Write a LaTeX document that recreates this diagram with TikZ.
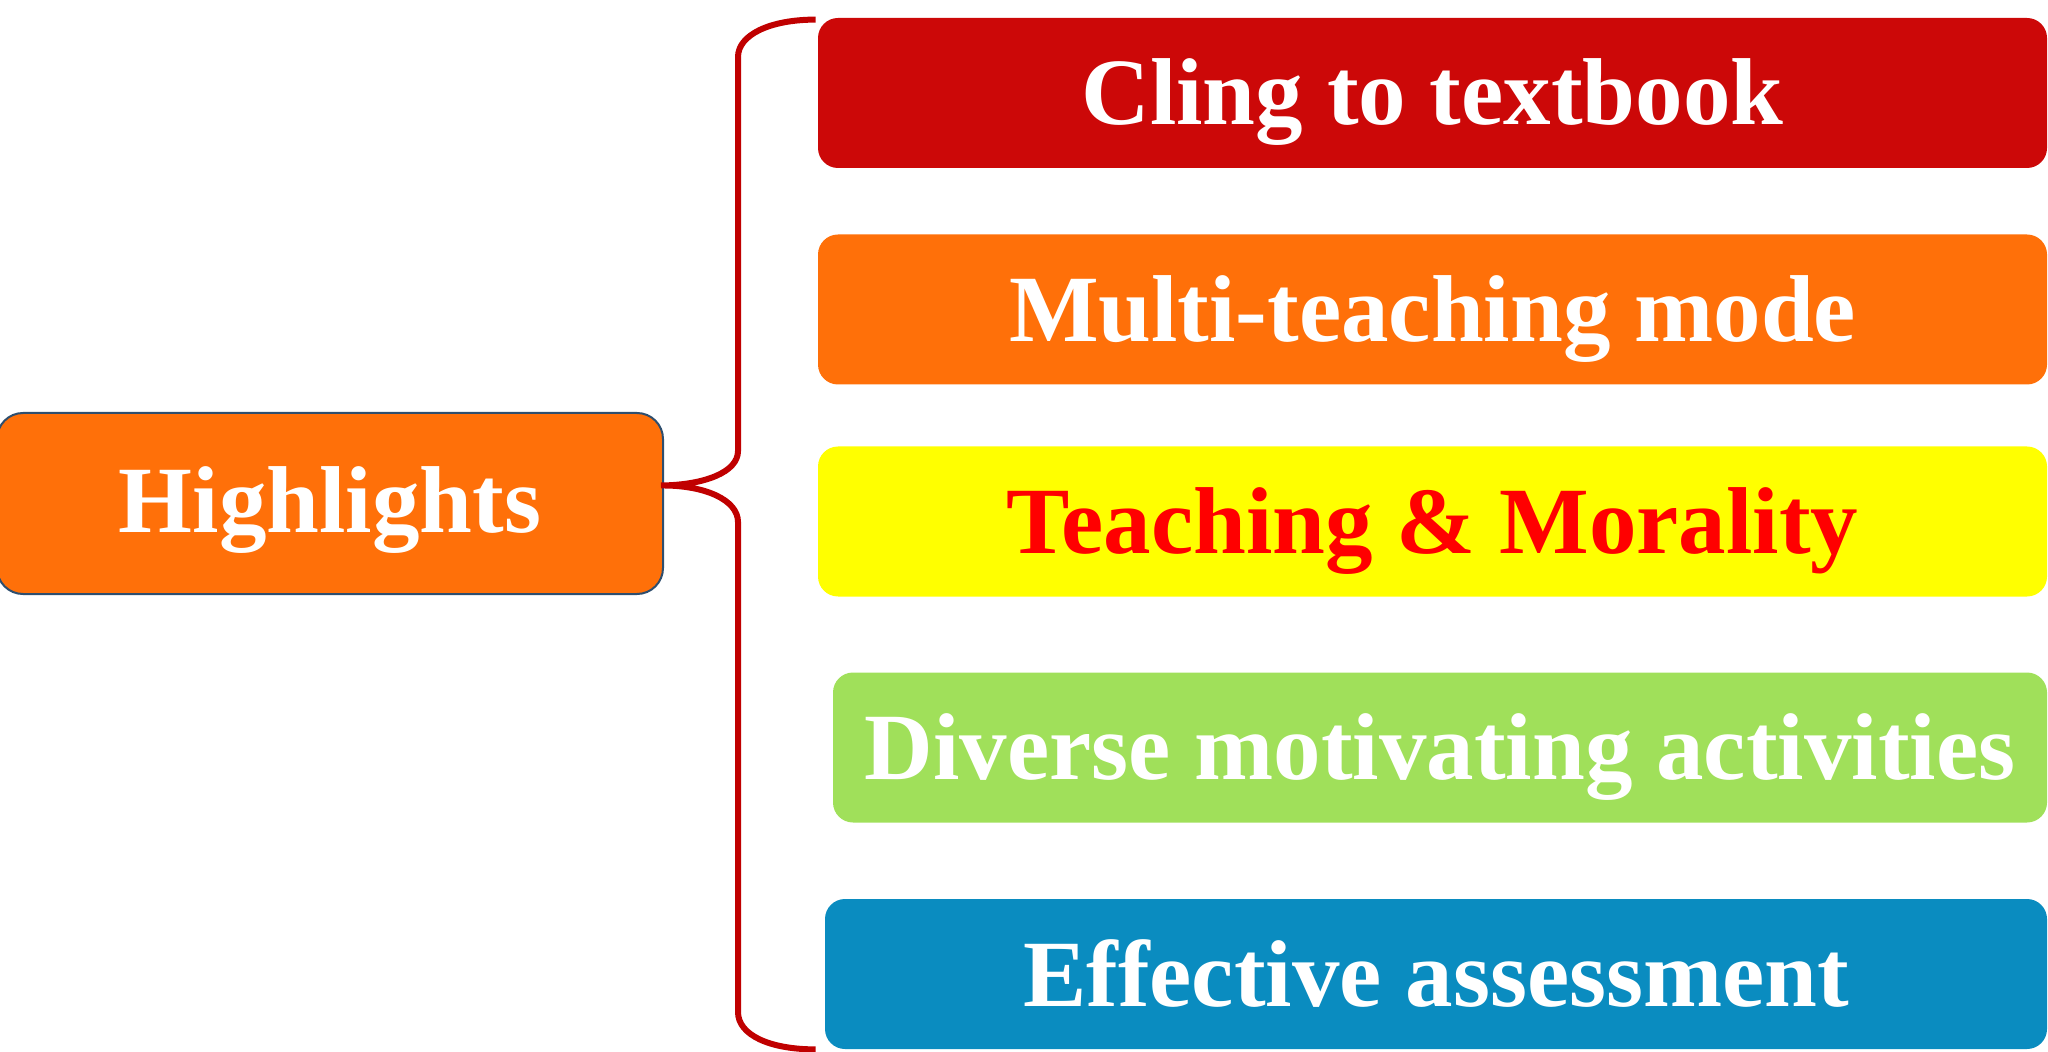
\documentclass[tikz,border=0pt]{standalone}
\usepackage{fontspec}
\setmainfont{Liberation Serif}
\usepackage{xcolor}
\usepackage{tikz}
\usetikzlibrary{calc}

\definecolor{clingred}{HTML}{CC0808}
\definecolor{modeorange}{HTML}{FF7009}
\definecolor{moralyellow}{HTML}{FFFF00}
\definecolor{activegreen}{HTML}{A0E05A}
\definecolor{assessblue}{HTML}{0A8CC0}
\definecolor{bracered}{HTML}{C00000}
\definecolor{rimblue}{HTML}{2E4E6E}

\begin{document}
\begin{tikzpicture}[
    x=0.5pt,
    y=-0.5pt,
    itembox/.style={
        rectangle,
        rounded corners=10pt,
        minimum height=75pt,
        inner sep=0pt,
        text height=32pt,
        text depth=0pt,
        text=white,
        font=\fontsize{47.5}{57}\selectfont\bfseries
    },
    rootbox/.style={
        itembox,
        rounded corners=13pt,
        draw=rimblue,
        line width=1pt,
        fill=modeorange,
        text height=29.5pt,
        minimum width=333pt,
        minimum height=90.5pt
    },
    braceline/.style={
        draw=bracered,
        line width=3pt
    }
]
\useasboundingbox (0,0) rectangle (2048,1052);

\node[rootbox] (hl) at (330,503.5) {Highlights};

\node[itembox,fill=clingred,minimum width=614.5pt] (cling) at (1432.5,93)
{Cling to textbook};
\node[itembox,fill=modeorange,minimum width=614.5pt] (multi) at (1432.5,309.5)
{Multi-teaching mode};
\node[itembox,fill=moralyellow,minimum width=614.5pt,text=red] (moral) at (1432.5,521.5)
{Teaching \& Morality};
\node[itembox,fill=activegreen,minimum width=607pt] (diverse) at (1440,747.5)
{Diverse motivating activities};
\node[itembox,fill=assessblue,minimum width=611pt] (assess) at (1436,974)
{Effective assessment};

% brace
\coordinate (tip) at ($(hl.east)+(-3,-18)$);
\coordinate (topend) at ($(cling.north west)+(-2,2)$);
\coordinate (botend) at ($(assess.south west)+(-9,0)$);
\draw[braceline] (topend)
    .. controls ++(-46,0) and (738,35) .. (738,57)
    -- (738,451)
    .. controls (738,472) and (705,485) .. (tip)
    .. controls (705,485) and (738,500) .. (738,522)
    -- (738,1012)
    .. controls (738,1035) and ($(botend)+(-46,0)$) .. (botend);

\end{tikzpicture}
\end{document}
